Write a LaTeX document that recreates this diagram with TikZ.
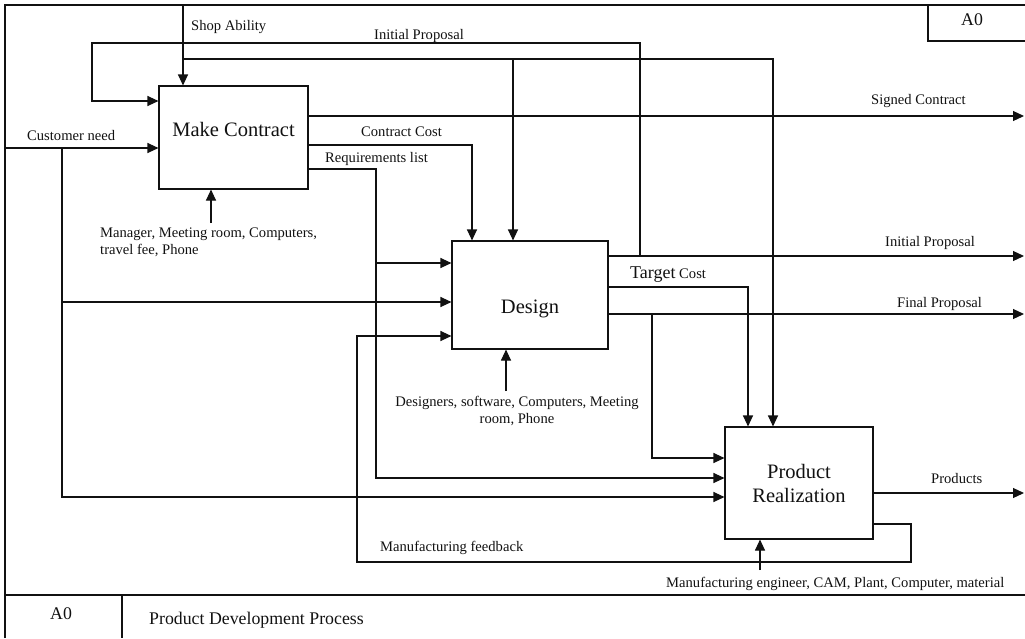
\documentclass[tikz,border=0pt]{standalone}
\usepackage{fontspec}
\setmainfont{Liberation Serif}
\usetikzlibrary{arrows.meta,calc}
\definecolor{ink}{HTML}{111111}

\begin{document}
\begin{tikzpicture}[
  x=1pt, y=-1pt,
  font=\fontsize{14.6}{17}\selectfont,
  >={Triangle[length=11pt,width=10pt]},
  activity/.style={draw=ink, line width=1.1pt, inner sep=0pt, align=center, text=ink, font=\fontsize{20.5}{24}\selectfont},
  frameline/.style={draw=ink, line width=1.1pt},
  flow/.style={->, draw=ink, line width=1.1pt},
  lbl/.style={anchor=base west, inner sep=0pt, text=ink},
  mech/.style={lbl, align=left},
  titletext/.style={lbl, font=\fontsize{17.8}{20}\selectfont}
]
\useasboundingbox (0,0) rectangle (1025,638);

% frame and title block
\draw[frameline] (5,638) -- (5,5) -- (1025,5);
\draw[frameline] (928,5) -- (928,41) -- (1025,41);
\draw[frameline] (5,595) -- (1025,595);
\draw[frameline] (122,595) -- (122,638);
\node[titletext] (nodetop) at (961,25) {A0};
\node[titletext] (nodebot) at (50,619) {A0};
\node[titletext] (title) at (149,624) {Product Development Process};

% activities
\node[activity, minimum width=149pt, minimum height=103pt, text height=14pt, text depth=17pt] (mc) at (233.5,137.5) {Make Contract};
\node[activity, minimum width=156pt, minimum height=108pt, text height=40.5pt, text depth=4.5pt] (ds) at (530,295) {Design};
\node[activity, minimum width=148pt, minimum height=112pt] (pr) at (799,483) {Product\\Realization};

% bend points
\coordinate (shopin) at (183,5);
\coordinate (shopj) at (183,59);
\coordinate (shopd) at (513,59);
\coordinate (shopp) at (773,59);
\coordinate (cnin) at (5,148);
\coordinate (cnj) at (62,148);
\coordinate (cnd) at (62,302);
\coordinate (cnlow) at (62,497);
\coordinate (ipj) at (640,256);
\coordinate (iptop) at (640,43);
\coordinate (ipleft) at (92,43);
\coordinate (ipin) at (92,101);
\coordinate (ipout) at (1024,256);
\coordinate (scout) at (1024,116);
\coordinate (ccbend) at (472,145);
\coordinate (rlbend) at (376,169);
\coordinate (rlj) at (376,263);
\coordinate (rllow) at (376,478);
\coordinate (tcbend) at (748,287);
\coordinate (fpj) at (652,314);
\coordinate (fplow) at (652,458);
\coordinate (fpout) at (1024,314);
\coordinate (prout) at (1024,493);
\coordinate (mfbend) at (911,524);
\coordinate (mfcorner) at (911,562);
\coordinate (mfleft) at (357,562);
\coordinate (mfup) at (357,336);
\coordinate (mcm) at (211,223);
\coordinate (dsm) at (506,391);
\coordinate (prm) at (760,570);

% controls from the top
\draw[flow] (shopin) -- (shopin |- mc.north);
\draw[flow] (shopj) -- (shopp) -- (shopp |- pr.north);
\draw[flow] (shopd) -- (shopd |- ds.north);
\draw[flow] (ipj) -- (iptop) -- (ipleft) -- (ipin) -- (ipin -| mc.west);

% inputs
\draw[flow] (cnin) -- (cnin -| mc.west);
\draw[flow] (cnj) -- (cnlow) -- (cnlow -| pr.west);
\draw[flow] (cnd) -- (cnd -| ds.west);

% outputs of Make Contract
\draw[flow] (mc.east |- scout) -- (scout);
\draw[flow] (mc.east |- ccbend) -- (ccbend) -- (ccbend |- ds.north);
\draw[flow] (mc.east |- rlbend) -- (rlbend) -- (rllow) -- (rllow -| pr.west);
\draw[flow] (rlj) -- (rlj -| ds.west);

% outputs of Design
\draw[flow] (ds.east |- ipout) -- (ipout);
\draw[flow] (ds.east |- tcbend) -- (tcbend) -- (tcbend |- pr.north);
\draw[flow] (ds.east |- fpout) -- (fpout);
\draw[flow] (fpj) -- (fplow) -- (fplow -| pr.west);

% outputs of Product Realization
\draw[flow] (pr.east |- prout) -- (prout);
\draw[flow] (pr.east |- mfbend) -- (mfbend) -- (mfcorner) -- (mfleft) -- (mfup) -- (mfup -| ds.west);

% mechanisms
\node[mech] (mcmech) at (100,254) {Manager, Meeting room, Computers,\\travel fee, Phone};
\draw[flow] (mcm) -- (mcm |- mc.south);
\node[lbl, align=center, anchor=base] (dsmech) at (517,423) {Designers, software, Computers, Meeting\\room, Phone};
\draw[flow] (dsm) -- (dsm |- ds.south);
\node[lbl] (prmech) at (666,587) {Manufacturing engineer, CAM, Plant, Computer, material};
\draw[flow] (prm) -- (prm |- pr.south);

% labels
\node[lbl] (shoplbl) at (191,30) {Shop Ability};
\node[lbl] (iplbl) at (374,39) {Initial Proposal};
\node[lbl] (cnlbl) at (27,140) {Customer need};
\node[lbl] (cclbl) at (361,136) {Contract Cost};
\node[lbl] (rllbl) at (325,162) {Requirements list};
\node[lbl] (sclbl) at (871,104) {Signed Contract};
\node[lbl] (ipoutlbl) at (885,246) {Initial Proposal};
\node[lbl] (tclbl) at (630,278) {{\fontsize{18}{20}\selectfont Target} Cost};
\node[lbl] (fplbl) at (897,307) {Final Proposal};
\node[lbl] (prlbl) at (931,483) {Products};
\node[lbl] (mflbl) at (380,551) {Manufacturing feedback};

\end{tikzpicture}
\end{document}
